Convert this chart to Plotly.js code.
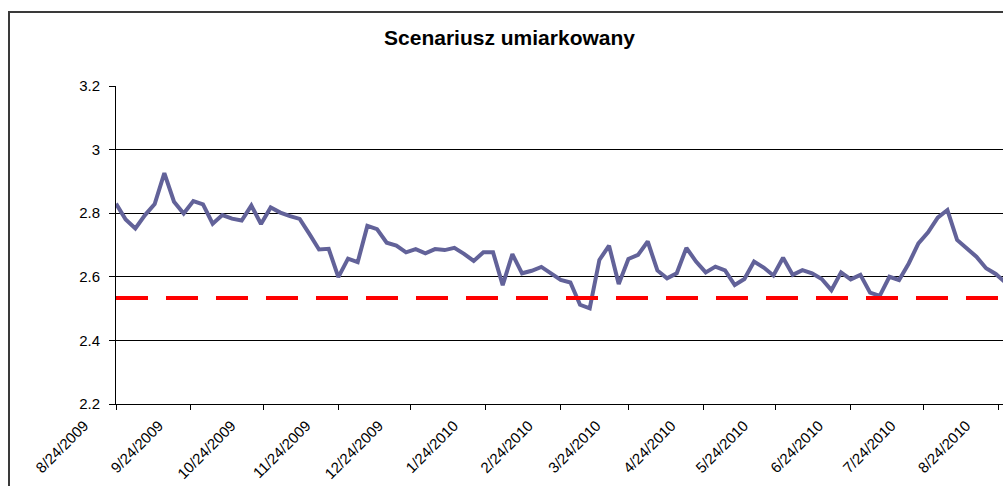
<!DOCTYPE html>
<html>
<head>
<meta charset="utf-8">
<script src="https://cdn.plot.ly/plotly-3.0.1.min.js"></script>
<style>
html, body { margin: 0; padding: 0; background: #fff; overflow: hidden; }
#chart { position: absolute; left: 0; top: 0; width: 1003px; height: 486px; }
#frame { position: absolute; left: 8px; top: 11px; width: 1100px; height: 600px;
         border-left: 2px solid #3a3a3a; border-top: 2px solid #3a3a3a; pointer-events: none; }
</style>
</head>
<body>
<div id="chart"></div>
<div id="frame"></div>
<script>
// observations, every 4 days
var dates = [
  '2009-08-24','2009-08-28','2009-09-01','2009-09-05','2009-09-09','2009-09-13','2009-09-17','2009-09-21',
  '2009-09-25','2009-09-29','2009-10-03','2009-10-07','2009-10-11','2009-10-15','2009-10-19','2009-10-23',
  '2009-10-27','2009-10-31','2009-11-04','2009-11-08','2009-11-12','2009-11-16','2009-11-20','2009-11-24',
  '2009-11-28','2009-12-02','2009-12-06','2009-12-10','2009-12-14','2009-12-18','2009-12-22','2009-12-26',
  '2009-12-30','2010-01-03','2010-01-07','2010-01-11','2010-01-15','2010-01-19','2010-01-23','2010-01-27',
  '2010-01-31','2010-02-04','2010-02-08','2010-02-12','2010-02-16','2010-02-20','2010-02-24','2010-02-28',
  '2010-03-04','2010-03-08','2010-03-12','2010-03-16','2010-03-20','2010-03-24','2010-03-28','2010-04-01',
  '2010-04-05','2010-04-09','2010-04-13','2010-04-17','2010-04-21','2010-04-25','2010-04-29','2010-05-03',
  '2010-05-07','2010-05-11','2010-05-15','2010-05-19','2010-05-23','2010-05-27','2010-05-31','2010-06-04',
  '2010-06-08','2010-06-12','2010-06-16','2010-06-20','2010-06-24','2010-06-28','2010-07-02','2010-07-06',
  '2010-07-10','2010-07-14','2010-07-18','2010-07-22','2010-07-26','2010-07-30','2010-08-03','2010-08-07',
  '2010-08-11','2010-08-15','2010-08-19','2010-08-23','2010-08-27'
];
var values = [
  2.830, 2.780, 2.752, 2.794, 2.829, 2.926, 2.836, 2.799,
  2.838, 2.828, 2.767, 2.794, 2.783, 2.777, 2.824, 2.766,
  2.818, 2.802, 2.791, 2.782, 2.735, 2.686, 2.688, 2.599,
  2.657, 2.646, 2.760, 2.750, 2.707, 2.698, 2.677, 2.687,
  2.674, 2.687, 2.684, 2.691, 2.672, 2.650, 2.677, 2.677,
  2.574, 2.671, 2.611, 2.619, 2.631, 2.611, 2.590, 2.582,
  2.512, 2.501, 2.653, 2.698, 2.577, 2.656, 2.669, 2.711,
  2.620, 2.595, 2.611, 2.691, 2.648, 2.614, 2.632, 2.620,
  2.574, 2.593, 2.648, 2.629, 2.604, 2.660, 2.606, 2.621,
  2.611, 2.593, 2.558, 2.614, 2.592, 2.606, 2.550, 2.540,
  2.600, 2.590, 2.642, 2.705, 2.740, 2.786, 2.810, 2.716,
  2.690, 2.663, 2.627, 2.609, 2.582
];
var threshold = 2.533;
var title = 'Scenariusz umiarkowany';

var font = 'Arial, "Liberation Sans", sans-serif';

var trace = {
  x: dates,
  y: values,
  type: 'scatter',
  mode: 'lines',
  line: {color: '#626299', width: 4},
  hoverinfo: 'skip'
};

var layout = {
  width: 1003,
  height: 486,
  margin: {l: 116, r: 0, t: 86, b: 82},
  paper_bgcolor: '#fff',
  plot_bgcolor: '#fff',
  showlegend: false,
  font: {family: font, color: '#000'},
  title: {
    text: '<b>' + title + '</b>',
    font: {family: font, size: 21, color: '#000'},
    xref: 'container', x: 0.508, xanchor: 'center',
    yref: 'container', y: 0.922, yanchor: 'middle'
  },
  xaxis: {
    type: 'date',
    range: ['2009-08-24', '2010-08-26'],
    tick0: '2009-08-24',
    dtick: 'M1',
    tickformat: '%-m/%-d/%Y',
    tickangle: -45,
    ticks: 'outside',
    ticklen: 5,
    tickcolor: '#000',
    tickfont: {family: font, size: 15, color: '#000'},
    ticklabelshift: -32,
    ticklabelstandoff: 1,
    ticklabeloverflow: 'allow',
    showline: true,
    linecolor: '#000',
    linewidth: 1,
    showgrid: false,
    zeroline: false
  },
  yaxis: {
    range: [2.2, 3.2],
    tick0: 2.2,
    dtick: 0.2,
    ticks: 'outside',
    ticklen: 6,
    tickcolor: '#000',
    tickfont: {family: font, size: 15, color: '#000'},
    ticklabelstandoff: 6,
    showline: true,
    linecolor: '#000',
    linewidth: 1,
    showgrid: true,
    gridcolor: '#000',
    gridwidth: 1,
    zeroline: false
  },
  shapes: [{
    type: 'line',
    xref: 'paper', x0: 0, x1: 1,
    yref: 'y', y0: threshold, y1: threshold,
    line: {color: '#ff0000', width: 4, dash: '32px,18px'}
  }]
};

Plotly.newPlot('chart', [trace], layout, {staticPlot: true, displayModeBar: false});
</script>
</body>
</html>
